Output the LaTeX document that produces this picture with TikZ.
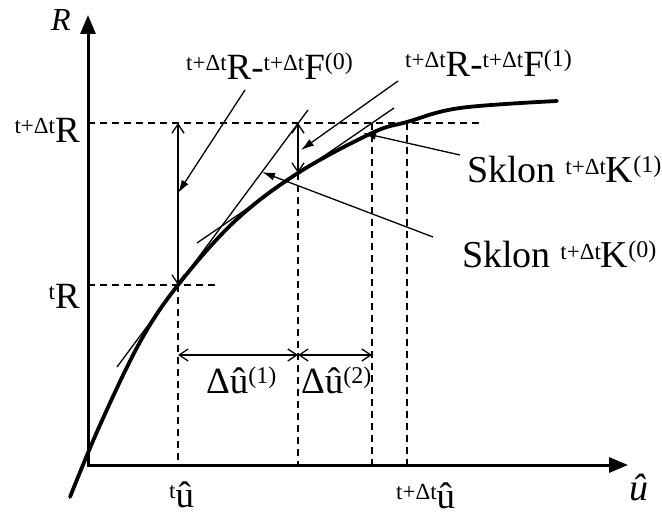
\documentclass[tikz,border=0pt]{standalone}
\usepackage{fontspec}
\setmainfont{Liberation Serif}
\usetikzlibrary{arrows.meta}
\newcommand{\tsup}[1]{\raisebox{9pt}{\fontsize{23}{23}\selectfont #1}}
\newcommand{\psup}[1]{\raisebox{10pt}{\fontsize{24}{24}\selectfont #1}}
\begin{document}
\begin{tikzpicture}[x=1pt,y=-1pt,
  axis/.style={line width=3pt, line join=miter, {Triangle[length=19pt,width=15pt]}-{Triangle[length=19pt,width=15pt]}},
  curve/.style={line width=3.8pt, line join=round, line cap=round},
  thinline/.style={line width=1.3pt},
  guide/.style={line width=1.3pt, dash pattern=on 7pt off 5pt},
  dim/.style={line width=1.3pt, {Straight Barb[length=9pt,width=12pt]}-{Straight Barb[length=9pt,width=12pt]}},
  leader/.style={line width=1.3pt, -{Latex[length=13pt,width=8pt]}},
  lbl/.style={inner sep=0pt, font=\fontsize{37}{40}\selectfont},
  biglbl/.style={inner sep=0pt, font=\fontsize{38}{42}\selectfont},
  axlbl/.style={inner sep=0pt}
]
\useasboundingbox (0,0) rectangle (662,516);

% key points
\coordinate (O) at (88,465);
\coordinate (ytip) at (88,15);
\coordinate (xtip) at (628,465);
\coordinate (P0) at (178,285);
\coordinate (P1) at (298,173);
\coordinate (P2) at (372,133);
\coordinate (P3) at (407,122);
\coordinate (Q0) at (178,123);
\coordinate (Q1) at (298,123);
\coordinate (Q2) at (372,123);
\coordinate (Q3) at (407,123);
\coordinate (B0) at (178,465);
\coordinate (B1) at (298,465);
\coordinate (B2) at (372,465);
\coordinate (B3) at (407,465);
\coordinate (L0) at (88,285);
\coordinate (L1) at (88,123);
\coordinate (E0) at (215,285);
\coordinate (E1) at (484,123);
\coordinate (D0) at (178,355);
\coordinate (D1) at (298,355);
\coordinate (D2) at (372,355);

% dashed guides
\draw[guide] (L1) -- (E1);
\draw[guide] (L0) -- (E0);
\draw[guide] (P0) -- (B0);
\draw[guide] (P1) -- (B1);
\draw[guide] (Q2) -- (B2);
\draw[guide] (Q3) -- (B3);

% axes
\draw[axis] (ytip) -- (O) -- (xtip);

% tangents
\coordinate (k0a) at (117,367);
\coordinate (k0b) at (308,110);
\coordinate (k1a) at (197,243);
\coordinate (k1b) at (394,108);
\draw[thinline] (k0a) -- (k0b);
\draw[thinline] (k1a) -- (k1b);

% curve
\draw[curve] plot[smooth, tension=0.6] coordinates {(70,497) (100,425) (140,342) (178,285) (235,221) (298,173) (372,133) (407,122) (460,108) (557,101)};

% dimension arrows
\draw[dim] (P0) -- (Q0);
\draw[dim] (P1) -- (Q1);
\draw[dim] (D0) -- (D1);
\draw[dim] (D1) -- (D2);

% labels
\node[axlbl, anchor=base west, font=\fontsize{32}{34}\selectfont\itshape] (Rax) at (51,31) {R};
\node[axlbl, anchor=base west, font=\fontsize{38}{42}\selectfont\itshape] (uax) at (629,500) {û};
\node[lbl, anchor=base east] (lRt) at (80,143) {\tsup{t+Δt}R};
\node[lbl, anchor=base east] (lR0) at (80,308) {\tsup{t}R};
\node[lbl, anchor=base west] (lu0) at (169,507) {\tsup{t}û};
\node[lbl, anchor=base west] (lu1) at (396,508) {\tsup{t+Δt}û};
\node[lbl, anchor=base west] (ld1) at (206,393) {Δû\psup{(1)}};
\node[lbl, anchor=base west] (ld2) at (301,393) {Δû\psup{(2)}};
\node[lbl, anchor=base west] (lf0) at (186,80) {\tsup{t+Δt}R-\tsup{t+Δt}F\psup{(0)}};
\node[lbl, anchor=base west] (lf1) at (405,77) {\tsup{t+Δt}R-\tsup{t+Δt}F\psup{(1)}};
\node[biglbl, anchor=base west] (lk1) at (467,183) {Sklon \tsup{t+Δt}K\psup{(1)}};
\node[biglbl, anchor=base west] (lk0) at (462,268) {Sklon \tsup{t+Δt}K\psup{(0)}};

% leaders
\coordinate (f0s) at (245,90);
\coordinate (f0t) at (178,193);
\coordinate (f1s) at (398,81);
\coordinate (f1t) at (301,150);
\coordinate (k1s) at (460,155);
\coordinate (k1t) at (363,133);
\coordinate (k0s) at (433,237);
\coordinate (k0t) at (262,172);
\draw[leader] (f0s) -- (f0t);
\draw[leader] (f1s) -- (f1t);
\draw[leader] (k1s) -- (k1t);
\draw[leader] (k0s) -- (k0t);
\end{tikzpicture}
\end{document}
